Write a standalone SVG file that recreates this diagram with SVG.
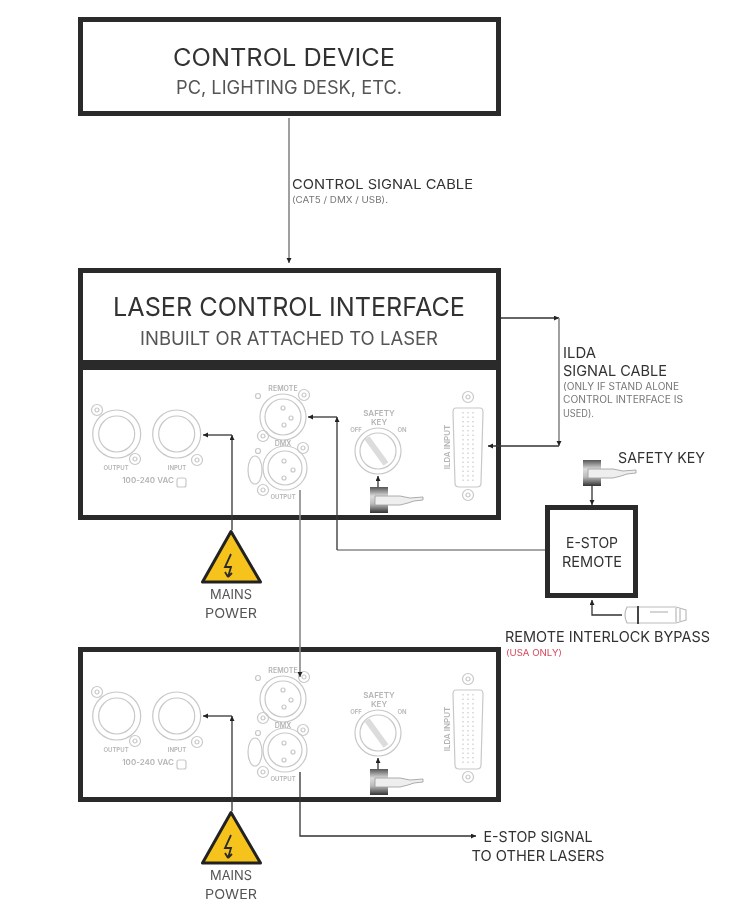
<svg xmlns="http://www.w3.org/2000/svg" xmlns:xlink="http://www.w3.org/1999/xlink" width="748" height="911" viewBox="0 0 748 911">
<style>
text{font-family:"Inter","Liberation Sans",sans-serif;font-weight:400;fill:#333}
.box{fill:#fff;stroke:#2b2b2b;stroke-width:5}
.wire{fill:none;stroke:#333;stroke-width:1.3}
.gwire{fill:none;stroke:#888;stroke-width:1.6}
.m{font-size:14.5px}
.c{text-anchor:middle}
.art{fill:none;stroke:#c8c8c8;stroke-width:1.2}
.lab{font-size:6px;fill:#b4b4b4;text-anchor:middle;font-weight:600}
.note{font-size:10px;fill:#777}
</style>
<defs>
<filter id="soft" x="-5%" y="-5%" width="110%" height="110%"><feGaussianBlur stdDeviation="0.6"/></filter>
<filter id="softer" x="-5%" y="-5%" width="110%" height="110%"><feGaussianBlur stdDeviation="0.3"/></filter>
<linearGradient id="keyg" x1="0" y1="0" x2="0" y2="1"><stop offset="0" stop-color="#555"/><stop offset=".35" stop-color="#ddd"/><stop offset=".65" stop-color="#bbb"/><stop offset="1" stop-color="#333"/></linearGradient>
<marker id="arr" markerWidth="8" markerHeight="8" refX="5" refY="2.500" orient="auto" markerUnits="userSpaceOnUse"><path d="M0,0L5,2.500L0,5Z" fill="#222"/></marker>
<g id="screw"><circle r="5.500" class="art"/><circle r="2" class="art"/></g>
<g id="key">
<rect x="0" y="0" width="18" height="26" fill="url(#keyg)"/>
<path d="M5,9H30L40,11L53,10V13L44,14L38,16L30,18H5Z" fill="#eee" stroke="#999" stroke-width=".8"/>
</g>
<g id="panel-art" filter="url(#softer)">
<circle cx="116.700" cy="434" r="24" class="art"/><circle cx="116.700" cy="434" r="18" class="art"/>
<circle cx="176.700" cy="434" r="24" class="art"/><circle cx="176.700" cy="434" r="18" class="art"/>
<use xlink:href="#screw" x="97" y="410"/><use xlink:href="#screw" x="135" y="459"/><use xlink:href="#screw" x="197" y="460"/>
<text x="116" y="470" class="lab">OUTPUT</text><text x="177" y="470" class="lab">INPUT</text>
<text x="148" y="483" class="lab" style="font-size:8px">100-240 VAC</text><rect x="177" y="478" width="9" height="9" rx="2" class="art"/>
<circle cx="283" cy="417" r="23" class="art"/><circle cx="283" cy="417" r="18" class="art"/>
<circle cx="283" cy="408" r="2" class="art"/><circle cx="284" cy="425" r="2" class="art"/><circle cx="291" cy="418" r="2" class="art"/>
<text x="283" y="391" class="lab" style="font-size:7px">REMOTE</text>
<use xlink:href="#screw" x="304" y="395"/><use xlink:href="#screw" x="263" y="436"/>
<circle cx="258" cy="396" r="2.500" class="art"/>
<circle cx="258" cy="451" r="2.500" class="art"/>
<circle cx="285" cy="468" r="22" class="art"/><circle cx="285" cy="468" r="17" class="art"/>
<circle cx="284" cy="461" r="2" class="art"/><circle cx="284" cy="478" r="2" class="art"/><circle cx="293" cy="470" r="2" class="art"/>
<text x="283" y="446" class="lab" style="font-size:7px">DMX</text>
<use xlink:href="#screw" x="303" y="448"/><use xlink:href="#screw" x="263" y="490"/>
<ellipse cx="255" cy="470" rx="7" ry="14" class="art"/>
<text x="283" y="499" class="lab">OUTPUT</text>
<circle cx="378" cy="451" r="23" class="art"/><circle cx="378" cy="451" r="18" class="art"/>
<path d="M367,438L386,464" stroke="#dcdcdc" stroke-width="6" fill="none"/>
<text x="379" y="416" class="lab" style="font-size:8px">SAFETY</text><text x="379" y="425" class="lab" style="font-size:8px">KEY</text>
<text x="356" y="432" class="lab">OFF</text><text x="402" y="432" class="lab">ON</text>
<path d="M456,408L480,408Q483,408 483,412L481,483Q481,487 477,487H459Q455,487 455,483L453,412Q453,408 456,408Z" class="art"/>
<path d="M463,412V483M468,412V483M473,412V483" fill="none" stroke="#d4d4d4" stroke-width="1.500" stroke-dasharray="1.500 3"/>
<use xlink:href="#screw" x="468" y="397"/><use xlink:href="#screw" x="468" y="495"/>
<text transform="translate(450 447) rotate(-90)" class="lab" style="font-size:8px">ILDA INPUT</text>
</g>
<g id="bolt"><path d="M232,-8L226,5H232L229,15M229,15L226,10M229,15L233,11" fill="none" stroke="#2a2a2a" stroke-width="1.800"/></g>
</defs>
<rect width="748" height="911" fill="#fff"/>
<g filter="url(#soft)">
<g id="control-device">
<rect x="80.500" y="19.500" width="418" height="94" class="box"/>
<text x="284" y="66" text-anchor="middle" font-size="24" textLength="222" lengthAdjust="spacingAndGlyphs">CONTROL DEVICE</text>
<text x="289" y="94" text-anchor="middle" font-size="18" textLength="226" lengthAdjust="spacingAndGlyphs" style="fill:#555">PC, LIGHTING DESK, ETC.</text>
</g>
<g id="laser-control-interface">
<rect x="80.500" y="270.500" width="418" height="92" class="box"/>
<text x="289" y="316" text-anchor="middle" font-size="26" textLength="352" lengthAdjust="spacingAndGlyphs">LASER CONTROL INTERFACE</text>
<text x="289" y="345" text-anchor="middle" font-size="18.500" textLength="298" lengthAdjust="spacingAndGlyphs" style="fill:#555">INBUILT OR ATTACHED TO LASER</text>
</g>
<g id="laser-panel-1">
<rect x="80.500" y="367.500" width="418" height="150" class="box"/>
<use xlink:href="#panel-art"/>
<use xlink:href="#key" x="370" y="487"/>
</g>
<g id="laser-panel-2">
<rect x="80.500" y="649.500" width="418" height="150" class="box"/>
<use xlink:href="#panel-art" y="282"/>
<use xlink:href="#key" x="370" y="769"/>
</g>
<g id="e-stop-remote">
<rect x="547.500" y="507.500" width="88" height="88" class="box"/>
<text x="592" y="548" class="m c" textLength="52" lengthAdjust="spacingAndGlyphs">E-STOP</text>
<text x="592" y="567" class="m c" textLength="60" lengthAdjust="spacingAndGlyphs">REMOTE</text>
</g>
<g id="safety-key">
<use xlink:href="#key" x="583" y="460"/>
<text x="618" y="463" class="m" textLength="87" lengthAdjust="spacingAndGlyphs">SAFETY KEY</text>
</g>
<g id="interlock-bypass">
<path d="M627,607H676L686,610V620L676,623H627Q623,615 627,607Z" fill="#fff" stroke="#bbb" stroke-width="1.200"/>
<path d="M638,606V624" stroke="#444" stroke-width="2"/>
<path d="M650,612H668M676,608V622M680,609V621" stroke="#aaa"/>
<text x="505" y="642" class="m" textLength="205" lengthAdjust="spacingAndGlyphs">REMOTE INTERLOCK BYPASS</text>
<text x="506" y="656" font-size="8.500" style="fill:#d9485f" textLength="56" lengthAdjust="spacingAndGlyphs">(USA ONLY)</text>
</g>
<g id="mains-power-1">
<path d="M231,531.500L202.500,582H260.500Z" fill="#f6c31c" stroke="#222" stroke-width="3" stroke-linejoin="round"/>
<use xlink:href="#bolt" x="-1" y="562"/>
<text x="231" y="599" font-size="13.500" class="c" style="fill:#555" textLength="42" lengthAdjust="spacingAndGlyphs">MAINS</text>
<text x="231" y="618" font-size="13.500" class="c" style="fill:#555" textLength="52" lengthAdjust="spacingAndGlyphs">POWER</text>
</g>
<g id="mains-power-2">
<path d="M231,812.500L202.500,863H260.500Z" fill="#f6c31c" stroke="#222" stroke-width="3" stroke-linejoin="round"/>
<use xlink:href="#bolt" x="-1" y="843"/>
<text x="231" y="880" font-size="13.500" class="c" style="fill:#555" textLength="42" lengthAdjust="spacingAndGlyphs">MAINS</text>
<text x="231" y="899" font-size="13.500" class="c" style="fill:#555" textLength="52" lengthAdjust="spacingAndGlyphs">POWER</text>
</g>
<g id="labels">
<text x="292" y="189" font-size="13.500" textLength="181" lengthAdjust="spacingAndGlyphs">CONTROL SIGNAL CABLE</text>
<text x="292" y="203" font-size="9" textLength="96" lengthAdjust="spacingAndGlyphs" style="fill:#777">(CAT5 / DMX / USB).</text>
<text x="563" y="358" class="m" textLength="33" lengthAdjust="spacingAndGlyphs">ILDA</text>
<text x="563" y="376" class="m" textLength="104" lengthAdjust="spacingAndGlyphs">SIGNAL CABLE</text>
<text x="563" y="390" class="note" textLength="116" lengthAdjust="spacingAndGlyphs">(ONLY IF STAND ALONE</text>
<text x="563" y="403" class="note" textLength="120" lengthAdjust="spacingAndGlyphs">CONTROL INTERFACE IS</text>
<text x="563" y="417" class="note" textLength="31" lengthAdjust="spacingAndGlyphs">USED).</text>
<text x="538" y="842" class="m c" textLength="109" lengthAdjust="spacingAndGlyphs">E-STOP SIGNAL</text>
<text x="538" y="861" class="m c" textLength="133" lengthAdjust="spacingAndGlyphs">TO OTHER LASERS</text>
</g>
<g id="connectors">
<path d="M289,118V263" class="gwire" marker-end="url(#arr)"/>
<path d="M501,318H559" class="wire" marker-end="url(#arr)"/>
<path d="M559,318V446" class="gwire" marker-end="url(#arr)"/>
<path d="M559,446H488" class="wire" marker-end="url(#arr)"/>
<path d="M232,530V435" class="wire" marker-end="url(#arr)"/>
<path d="M232,435H203" class="wire" marker-end="url(#arr)"/>
<path d="M545,550H337" class="gwire"/>
<path d="M337,550V417" class="wire" marker-end="url(#arr)"/>
<path d="M337,417H308" class="wire" marker-end="url(#arr)"/>
<path d="M300,490V677" class="gwire" marker-end="url(#arr)"/>
<path d="M300,772V836H476" class="wire" marker-end="url(#arr)"/>
<path d="M232,811V716" class="wire" marker-end="url(#arr)"/>
<path d="M232,716H203" class="wire" marker-end="url(#arr)"/>
<path d="M378,487V476" class="wire" marker-end="url(#arr)"/>
<path d="M378,769V758" class="wire" marker-end="url(#arr)"/>
<path d="M592,486V505" class="wire" marker-end="url(#arr)"/>
<path d="M622,615H592V600" class="wire" marker-end="url(#arr)"/>
</g>
</g>
</svg>
